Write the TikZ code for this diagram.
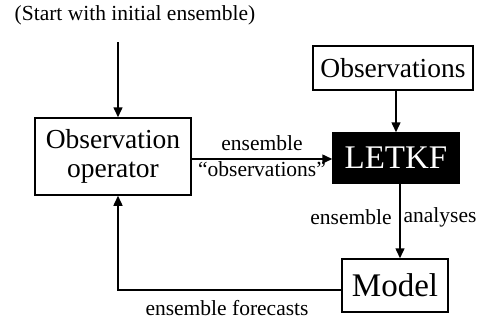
\documentclass[tikz,border=0pt]{standalone}
\usepackage{fontspec}
\setmainfont{Liberation Serif}
\usetikzlibrary{arrows.meta}
\tikzset{
    box/.style={draw, line width=1.5pt, inner sep=0pt, align=center, font=\fontsize{27.5}{31}\selectfont},
    flow/.style={line width=1.5pt, -{Triangle[length=10pt,width=9pt]}},
    lbl/.style={font=\fontsize{21.5}{24}\selectfont, inner sep=0pt}
}
\begin{document}
\begin{tikzpicture}[x=1pt,y=-1pt]
    \useasboundingbox (0,0) rectangle (480,322);
    %Start
    \node[lbl] (start) at (135,15) {(Start with initial ensemble)};
    \coordinate (s) at (118,42);
    %Observation operator
    \node[box, minimum width=156pt, minimum height=77pt] (opop) at (113,156.5) {Observation\\[-2pt]operator};
    \draw[flow] (s) -- (s |- opop.north);
    %Observations
    \node[box, minimum width=160pt, minimum height=44pt] (obs) at (393,68) {Observations};
    %LETKF
    \node[box, fill=black, text=white, minimum width=126pt, minimum height=50pt, font=\fontsize{33}{36}\selectfont] (letkf) at (396,158) {LETKF};
    \draw[flow] (obs.south -| letkf) -- (letkf.north);
    %Model
    \node[box, minimum width=106pt, minimum height=53pt, font=\fontsize{33}{36}\selectfont] (model) at (395,285.5) {Model};
    \coordinate (mid) at (400,183);
    \draw[flow] (letkf.south -| mid) -- (model.north -| mid);
    %ensemble observations
    \coordinate (oo) at (191,159);
    \draw[flow] (oo) -- (oo -| letkf.west);
    \node[lbl] (ensa) at (262,143) {ensemble};
    \node[lbl] (ensb) at (262,169) {“observations”};
    %ensemble analyses
    \node[lbl] (ana) at (351,217) {ensemble};
    \node[lbl] (anb) at (440,217) {analyses};
    %Back to operator
    \coordinate (back) at (118,290);
    \draw[flow] (back -| model.west) -- (back) -- (back |- opop.south);
    \node[lbl] (fc) at (227,308) {ensemble forecasts};
\end{tikzpicture}
\end{document}
